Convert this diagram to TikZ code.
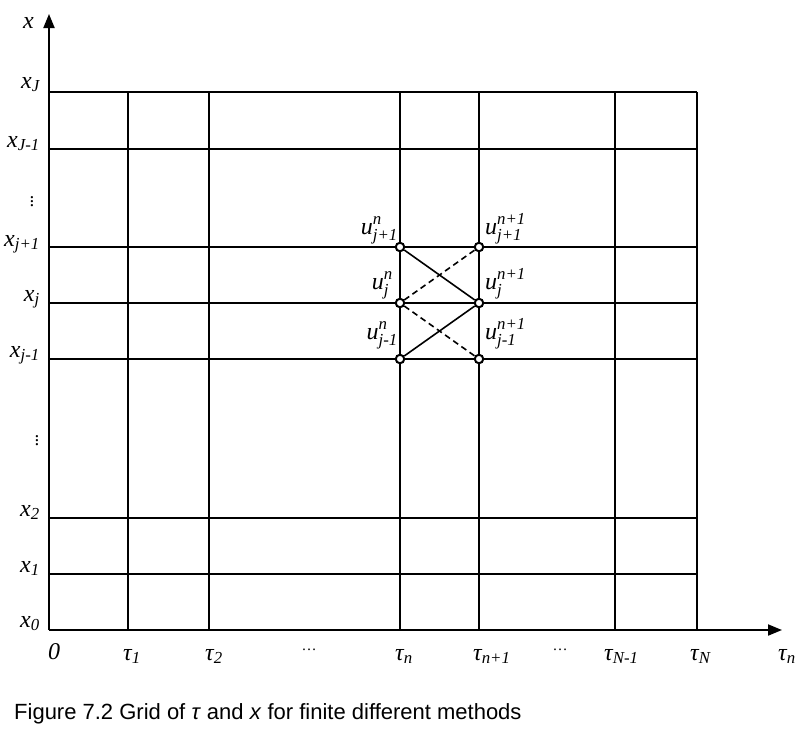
\documentclass[tikz,border=0pt]{standalone}
\usepackage{amsmath}
\usepackage{fontspec}
\setmainfont{Liberation Serif}
\newfontfamily\capfont{Liberation Sans}
\usetikzlibrary{arrows.meta}
\newcommand{\xl}[1]{$\textit{x}_{\textit{#1}}$}
\newcommand{\tl}[1]{$\textit{τ}_{\textit{#1}}$}
\newcommand{\ul}[2]{$\textit{u}^{\textit{#1}}_{\textit{#2}}$}
\begin{document}
\begin{tikzpicture}[x=1pt,y=-1pt,
  gridline/.style={line width=1.7pt},
  axisline/.style={line width=1.9pt,-{Triangle[length=14pt,width=11pt]}},
  lab/.style={font=\fontsize{24}{28}\selectfont,inner sep=0pt},
  dotlab/.style={font=\fontsize{15}{18}\selectfont,inner sep=0pt},
  vdotlab/.style={font=\fontsize{19}{22}\selectfont,inner sep=0pt},
  gpt/.style={circle,draw,line width=2pt,minimum size=8.5pt,inner sep=0pt,fill=white},
  solidc/.style={line width=1.6pt},
  dashc/.style={line width=1.6pt,dash pattern=on 6pt off 4pt}]
\useasboundingbox (0,0) rectangle (799,729);
% axes
\coordinate (O) at (49,630);
\coordinate (ytop) at (49,14);
\coordinate (xend) at (782,630);
% grid
\foreach \y in {92,149,247,303,359,518,574}
  \draw[gridline] (49,\y) -- (697,\y);
\foreach \x in {128,209,400,479,615,697}
  \draw[gridline] (\x,92) -- (\x,630);
\draw[axisline] (O) -- (ytop);
\draw[axisline] (O) -- (xend);
% x labels
\node[lab,anchor=base east] (lx) at (34,28) {\textit{x}};
\node[lab,anchor=base east] (lxJ) at (40,88) {\xl{J}};
\node[lab,anchor=base east] (lxJm) at (40,147) {\xl{J-1}};
\node[vdotlab,anchor=center] (vd1) at (32,199) {$\vdots$};
\node[lab,anchor=base east] (lxjp) at (40,246) {\xl{j+1}};
\node[lab,anchor=base east] (lxj) at (40,301) {\xl{j}};
\node[lab,anchor=base east] (lxjm) at (40,357) {\xl{j-1}};
\node[vdotlab,anchor=center] (vd2) at (37,438) {$\vdots$};
\node[lab,anchor=base east] (lx2) at (40,516) {\xl{2}};
\node[lab,anchor=base east] (lx1) at (40,572) {\xl{1}};
\node[lab,anchor=base east] (lx0) at (40,627) {\xl{0}};
% tau labels
\node[lab,anchor=base west] (l0) at (48,659) {\textit{0}};
\node[lab,anchor=base west] (t1) at (123,660) {\tl{1}};
\node[lab,anchor=base west] (t2) at (205,660) {\tl{2}};
\node[dotlab] (dd1) at (309,650) {\dots};
\node[lab,anchor=base west] (tn) at (395,660) {\tl{n}};
\node[lab,anchor=base west] (tn1) at (473,660) {\tl{n+1}};
\node[dotlab] (dd2) at (560,650) {\dots};
\node[lab,anchor=base west] (tNm) at (604,660) {\tl{N-1}};
\node[lab,anchor=base west] (tN) at (690,660) {\tl{N}};
\node[lab,anchor=base west] (tlast) at (778,660) {\tl{n}};
% grid points
\node[gpt] (a1) at (400,247) {};
\node[gpt] (a0) at (400,303) {};
\node[gpt] (am) at (400,359) {};
\node[gpt] (b1) at (479,247) {};
\node[gpt] (b0) at (479,303) {};
\node[gpt] (bm) at (479,359) {};
\draw[solidc] (a1) -- (b0);
\draw[solidc] (am) -- (b0);
\draw[dashc] (a0) -- (b1);
\draw[dashc] (a0) -- (bm);
% u labels
\node[lab,anchor=base east] (ua1) at (398,234) {\ul{n}{j+1}};
\node[lab,anchor=base east] (ua0) at (393,289) {\ul{n}{j}};
\node[lab,anchor=base east] (uam) at (398,339) {\ul{n}{j-1}};
\node[lab,anchor=base west] (ub1) at (485,234) {\ul{n+1}{j+1}};
\node[lab,anchor=base west] (ub0) at (485,289) {\ul{n+1}{j}};
\node[lab,anchor=base west] (ubm) at (485,339) {\ul{n+1}{j-1}};
% caption
\node[anchor=base west,inner sep=0pt,font=\capfont\fontsize{22}{26}\selectfont] (cap) at (14,719) {Figure 7.2 Grid of \textit{τ} and \textit{x} for finite different methods};
\end{tikzpicture}
\end{document}
